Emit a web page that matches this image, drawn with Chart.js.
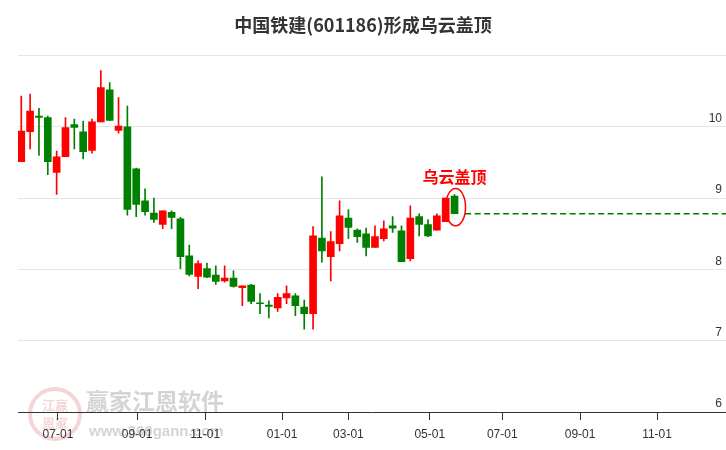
<!DOCTYPE html>
<html>
<head>
<meta charset="utf-8">
<script src="https://cdn.jsdelivr.net/npm/chart.js@4/dist/chart.umd.min.js"></script>
<style>
  body { margin: 0; background: #fff; }
  canvas { display: block; }
</style>
</head>
<body>
<canvas id="klineChart" width="726" height="450"></canvas>
<script>
// weekly candles, oldest first
var opens  = [9.51,9.93,10.15,10.13,9.36,9.58,10.03,9.93,9.67,10.07,
              10.52,9.95,10.00,9.41,8.96,8.79,8.63,8.80,8.71,8.19,
              7.90,8.01,7.92,7.84,7.88,7.745,7.78,7.53,7.50,7.46,
              7.60,7.63,7.47,7.38,8.44,8.18,8.36,8.72,8.55,8.50,
              8.31,8.43,8.61,8.54,8.15,8.74,8.63,8.55,8.67,9.03];
var highs  = [10.43,10.46,10.26,10.15,9.66,10.13,10.11,10.08,10.11,10.79,
              10.62,10.41,10.29,9.42,9.13,9.00,8.82,8.82,8.73,8.34,
              8.12,8.09,8.05,8.05,7.98,7.77,7.79,7.66,7.56,7.66,
              7.77,7.66,7.57,8.60,9.30,8.53,8.96,8.84,8.57,8.58,
              8.61,8.68,8.74,8.61,8.89,8.78,8.70,8.78,9.00,9.05];
var lows   = [9.51,9.69,9.60,9.33,9.05,9.58,9.69,9.55,9.63,10.07,
              10.09,9.91,8.76,8.74,8.76,8.66,8.57,8.57,8.01,7.91,
              7.73,7.885,7.79,7.82,7.75,7.49,7.52,7.38,7.32,7.41,
              7.52,7.35,7.16,7.16,8.10,7.84,8.26,8.43,8.38,8.19,
              8.31,8.40,8.52,8.11,8.12,8.47,8.46,8.55,8.67,8.78];
var closes = [9.94,10.22,10.13,9.51,9.58,9.99,9.99,9.65,10.07,10.55,
              10.09,10.01,8.84,8.91,8.81,8.70,8.82,8.73,8.18,7.93,
              8.08,7.89,7.83,7.88,7.76,7.77,7.55,7.52,7.48,7.61,
              7.66,7.49,7.38,8.47,8.26,8.39,8.75,8.59,8.46,8.31,
              8.46,8.57,8.58,8.11,8.72,8.63,8.47,8.75,9.00,8.78];

// x axis: month labels and their position in weeks
var tickLabels = ['07-01','09-01','11-01','01-01','03-01','05-01','07-01','09-01','11-01'];
var tickWeeks  = [4.15, 13.1, 20.8, 29.5, 37.0, 46.2, 54.4, 63.2, 71.9];
var priceTicks = [6, 7, 8, 9, 10, 11];

var chartTitle = '中国铁建(601186)形成乌云盖顶';
var patternName = '乌云盖顶';
var signalLevel = closes[closes.length - 1];

var UP = '#ff0000', DOWN = '#008000';

var wicks = [], bodies = [], colors = [];
for (var i = 0; i < opens.length; i++) {
  wicks.push({ x: i, y: [lows[i], highs[i]] });
  bodies.push({ x: i, y: [Math.min(opens[i], closes[i]), Math.max(opens[i], closes[i])] });
  colors.push(closes[i] > opens[i] ? UP : DOWN);
}

var extraPlugin = {
  id: 'extras',
  beforeDraw: function (chart) {
    var c = chart.ctx;
    c.save();
    // watermark
    c.globalAlpha = 0.22;
    c.strokeStyle = '#d04040';
    c.lineWidth = 4;
    c.beginPath(); c.arc(55, 414, 25, 0, Math.PI * 2); c.stroke();
    c.fillStyle = '#d04040';
    c.font = 'bold 13px "Noto Sans CJK SC"';
    c.textAlign = 'center'; c.textBaseline = 'middle';
    c.fillText('江赢', 55, 405); c.fillText('恩家', 55, 423);
    c.globalAlpha = 0.5;
    c.fillStyle = '#aaa';
    c.font = 'bold 23px "Noto Sans CJK SC"';
    c.textAlign = 'left';
    c.fillText('赢家江恩软件', 86, 401);
    c.font = 'bold 15px "Liberation Sans"';
    c.fillText('www.360gann.com', 89, 432);
    c.restore();
  },
  afterDraw: function (chart) {
    var c = chart.ctx, xs = chart.scales.x, ys = chart.scales.y;
    c.save();
    c.fillStyle = '#333';
    c.font = 'bold 18px "Noto Sans CJK SC"';
    c.textAlign = 'center'; c.textBaseline = 'middle';
    c.fillText(chartTitle, 363, 25);

    var last = opens.length - 1;
    var cx = xs.getPixelForValue(last);
    var yTop = ys.getPixelForValue(highs[last]);
    var yBot = ys.getPixelForValue(lows[last]);
    c.strokeStyle = '#ff0000';
    c.lineWidth = 1.5;
    c.beginPath();
    c.ellipse(cx + 1, (yTop + yBot) / 2 + 3, 10, (yBot - yTop) / 2 + 9, 0, 0, Math.PI * 2);
    c.stroke();
    c.fillStyle = '#ff0000';
    c.font = 'bold 16px "Noto Sans CJK SC"';
    c.fillText(patternName, cx, yTop - 18);
    c.restore();
  }
};

var ctx = document.getElementById('klineChart').getContext('2d');
var klineChart = new Chart(ctx, {
  type: 'bar',
  data: {
    datasets: [
      { data: wicks, backgroundColor: colors, barThickness: 1, grouped: false, order: 2 },
      { data: bodies, backgroundColor: colors, barThickness: 7, grouped: false, order: 1 },
      {
        type: 'line',
        data: [{ x: opens.length + 0.2, y: signalLevel }, { x: 79.7, y: signalLevel }],
        borderColor: '#007a00', borderWidth: 1.4, borderDash: [6, 3.5],
        pointRadius: 0, fill: false, order: 0
      }
    ]
  },
  options: {
    responsive: false,
    animation: false,
    layout: { padding: { top: 55.5, left: 18, right: 0, bottom: 0 } },
    plugins: { legend: { display: false }, tooltip: { enabled: false }, title: { display: false } },
    scales: {
      x: {
        type: 'linear', min: -0.37, max: 79.7, offset: false,
        afterBuildTicks: function (s) { s.ticks = tickWeeks.map(function (v) { return { value: v }; }); },
        afterFit: function (s) { s.height = 38; },
        grid: { offset: false, drawOnChartArea: false, drawTicks: true, tickLength: 8, color: '#333' },
        border: { color: '#333', width: 1 },
        ticks: {
          autoSkip: false, maxRotation: 0, padding: 7, color: '#333',
          font: { family: 'Liberation Sans', size: 12 },
          callback: function (v, i) { return tickLabels[i]; }
        }
      },
      y: {
        position: 'right', min: 6, max: 11,
        afterBuildTicks: function (s) { s.ticks = priceTicks.map(function (v) { return { value: v }; }); },
        afterFit: function (s) { s.width = 0; },
        grid: { color: '#e6e6e6', drawTicks: false },
        border: { display: false },
        ticks: {
          mirror: true, padding: -4, labelOffset: -8, color: '#333',
          font: { family: 'Liberation Sans', size: 12 },
          callback: function (v) { return v === 11 ? '' : v; }
        }
      }
    }
  },
  plugins: [extraPlugin]
});
</script>
</body>
</html>
